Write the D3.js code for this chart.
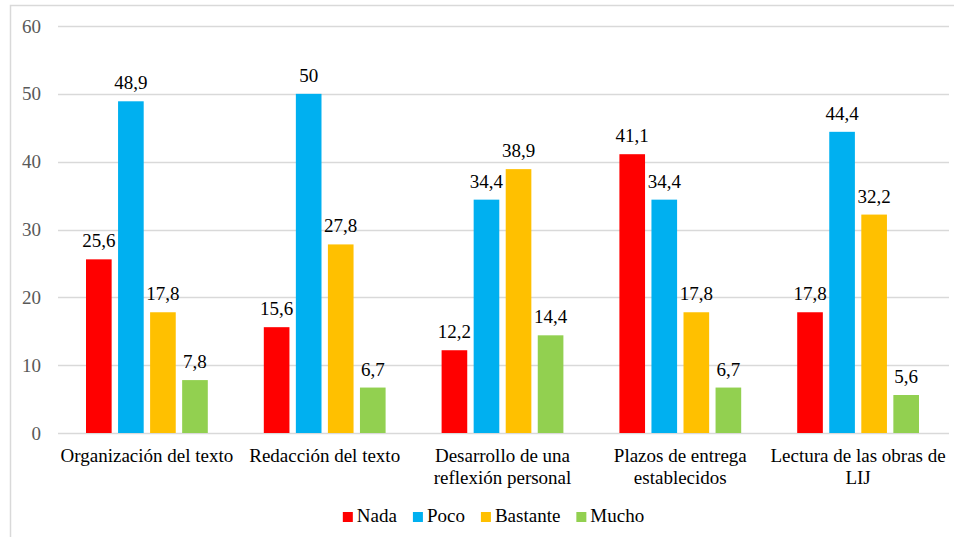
<!DOCTYPE html>
<html>
<head>
    <meta charset="utf-8">
    <script src="https://d3js.org/d3.v7.min.js"></script>
    <style>
        body { margin: 0; background: white; }
    </style>
</head>
<body>
    <div id="chart"></div>
    <script>
        // categories (line-broken as in the original)
        const categories = [
            ["Organización del texto"],
            ["Redacción del texto"],
            ["Desarrollo de una", "reflexión personal"],
            ["Plazos de entrega", "establecidos"],
            ["Lectura de las obras de", "LIJ"]
        ];
        const seriesNames = ["Nada", "Poco", "Bastante", "Mucho"];
        const nada = [25.6, 15.6, 12.2, 41.1, 17.8];
        const poco = [48.9, 50, 34.4, 34.4, 44.4];
        const bastante = [17.8, 27.8, 38.9, 17.8, 32.2];
        const mucho = [7.8, 6.7, 14.4, 6.7, 5.6];
        const yTicks = [0, 10, 20, 30, 40, 50, 60];
        const colors = ["#FF0000", "#00B0F0", "#FFC000", "#92D050"];

        const width = 954, height = 537;
        const margin = {top: 26, right: 5, bottom: 104, left: 58};
        const series = [nada, poco, bastante, mucho];
        const FONT = "Liberation Serif";
        const fs = 19;

        const svg = d3.select("#chart").append("svg")
            .attr("width", width)
            .attr("height", height);

        // outer chart border
        svg.append("rect")
            .attr("x", 10.5).attr("y", 5.5)
            .attr("width", 945).attr("height", 545)
            .attr("fill", "white")
            .attr("stroke", "#d9d9d9")
            .attr("stroke-width", 1.5);

        const x0 = d3.scaleBand()
            .domain(d3.range(categories.length))
            .range([margin.left, width - margin.right - 2])
            .paddingInner(0.315)
            .paddingOuter(0.1575);

        const x1 = d3.scaleBand()
            .domain(d3.range(seriesNames.length))
            .range([0, x0.bandwidth()])
            .padding(0.2)
            .paddingOuter(0);

        const y = d3.scaleLinear()
            .domain([0, 60])
            .range([height - margin.bottom, margin.top]);

        // gridlines
        svg.append("g")
            .selectAll("line")
            .data(yTicks)
            .join("line")
            .attr("x1", margin.left)
            .attr("x2", width - margin.right)
            .attr("y1", d => Math.round(y(d)) + 0.5)
            .attr("y2", d => Math.round(y(d)) + 0.5)
            .attr("stroke", "#d9d9d9")
            .attr("stroke-width", 1.3);

        // y axis labels
        const yAxis = svg.append("g")
            .attr("transform", "translate(" + (margin.left - 17) + ",0)")
            .call(d3.axisLeft(y).tickValues(yTicks).tickSize(0).tickPadding(0));
        yAxis.attr("font-family", FONT).attr("font-size", fs);
        yAxis.select(".domain").remove();
        yAxis.selectAll("text")
            .attr("font-family", FONT)
            .attr("fill", "#595959");

        // bars
        const groups = svg.append("g")
            .selectAll("g")
            .data(seriesNames)
            .join("g")
            .attr("fill", (d, i) => colors[i]);

        groups.each(function(name, si) {
            const g = d3.select(this);
            g.selectAll("rect")
                .data(series[si])
                .join("rect")
                .attr("x", (d, ci) => x0(ci) + x1(si))
                .attr("y", d => y(d))
                .attr("width", x1.bandwidth())
                .attr("height", d => y(0) - y(d));

            svg.append("g")
                .selectAll("text")
                .data(series[si])
                .join("text")
                .attr("x", (d, ci) => x0(ci) + x1(si) + x1.bandwidth() / 2)
                .attr("y", d => y(d) - 12)
                .attr("text-anchor", "middle")
                .attr("font-family", FONT)
                .attr("font-size", fs)
                .attr("fill", "#000")
                .text(d => String(d).replace(".", ","));
        });

        // category labels
        categories.forEach((lines, ci) => {
            const t = svg.append("text")
                .attr("text-anchor", "middle")
                .attr("font-family", FONT)
                .attr("font-size", fs)
                .attr("fill", "#000");
            lines.forEach((line, li) => {
                t.append("tspan")
                    .attr("x", x0(ci) + x0.bandwidth() / 2)
                    .attr("y", y(0) + 29 + li * 22)
                    .text(line);
            });
        });

        // legend
        const legend = svg.append("g");
        let lx = 0;
        seriesNames.forEach((name, i) => {
            legend.append("rect")
                .attr("x", lx).attr("y", -10)
                .attr("width", 10).attr("height", 10)
                .attr("fill", colors[i]);
            const t = legend.append("text")
                .attr("x", lx + 14)
                .attr("y", 0)
                .attr("font-family", FONT)
                .attr("font-size", fs)
                .attr("fill", "#000")
                .text(name);
            lx += 14 + t.node().getComputedTextLength() + 16;
        });
        const legendWidth = lx - 16;
        legend.attr("transform", "translate(" + (493.5 - legendWidth / 2) + ",522)");
    </script>
</body>
</html>
